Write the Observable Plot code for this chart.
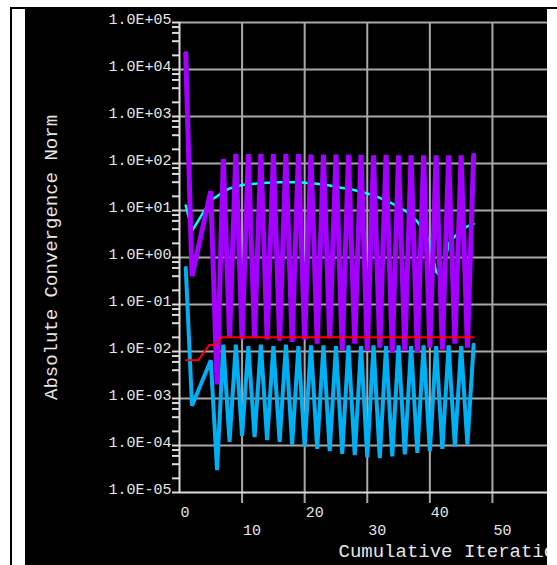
<!DOCTYPE html>
<html>
<head>
<meta charset="utf-8">
<script src="https://cdn.jsdelivr.net/npm/d3@7"></script>
<script src="https://cdn.jsdelivr.net/npm/@observablehq/plot@0.6"></script>
<style>
  html, body { margin: 0; padding: 0; background: #ffffff; width: 557px; height: 565px; overflow: hidden; }
  #frame { position: absolute; left: 10px; top: 7px; width: 547px; height: 560px;
           border-top: 2px solid #000; border-left: 2px solid #000; box-sizing: border-box; }
  #panel { position: absolute; left: 25px; top: 9px; width: 522px; height: 556px;
           background: #000; overflow: hidden; }
  #panel svg { display: block; }
</style>
</head>
<body>
<div id="frame"></div>
<div id="panel"></div>
<script>
// ---- tick values / labels ----
const yDecades = [1e-5, 1e-4, 1e-3, 1e-2, 1e-1, 1e0, 1e1, 1e2, 1e3, 1e4, 1e5];
const yTickLabels = ["1.0E-05", "1.0E-04", "1.0E-03", "1.0E-02", "1.0E-01", "1.0E+00",
                     "1.0E+01", "1.0E+02", "1.0E+03", "1.0E+04", "1.0E+05"];
const yMinorMultipliers = [2, 4, 6, 8];
const xTickMarks = [10, 20, 30, 40, 50];
const xLabelsUpper = [0, 20, 40];
const xLabelsLower = [10, 30, 50];
const xTitle = "Cumulative Iteration";
const yTitle = "Absolute Convergence Norm";

// ---- series (iteration, value) ----
const iterPB = [1, 2, 5, 6, 7, 8, 9, 10, 11, 12, 13, 14, 15, 16, 17, 18, 19, 20, 21, 22, 23, 24,
                25, 26, 27, 28, 29, 30, 31, 32, 33, 34, 35, 36, 37, 38, 39, 40, 41, 42, 43, 44, 45, 46, 47];
const purpleVal = [2.2e4, 0.4, 26, 0.002, 125, 0.02, 160, 0.018, 158, 0.02, 160, 0.018, 158, 0.017,
                   160, 0.016, 158, 0.018, 155, 0.0147, 155, 0.019, 155, 0.0105, 155, 0.0147, 152,
                   0.0103, 150, 0.012, 152, 0.0095, 150, 0.0103, 150, 0.0095, 150, 0.012, 150, 0.011,
                   150, 0.0147, 150, 0.012, 150];
const blueVal = [0.6, 0.0007, 0.0065, 3e-5, 0.014, 1.2e-4, 0.014, 1.6e-4, 0.013, 1.5e-4, 0.014, 1.3e-4,
                 0.013, 1.2e-4, 0.014, 1.05e-4, 0.013, 9.5e-5, 0.0135, 8.5e-5, 0.0135, 7.6e-5, 0.013,
                 6.6e-5, 0.0135, 6.2e-5, 0.013, 5.6e-5, 0.0135, 5.4e-5, 0.013, 5.9e-5, 0.0135, 6.5e-5,
                 0.013, 7e-5, 0.0135, 7.6e-5, 0.013, 8.5e-5, 0.0135, 9.5e-5, 0.013, 1.05e-4, 0.014];
const cyanVal = [12.8, 3.7, 16.6, 20, 25, 29.5, 32, 35, 36, 37, 38, 39, 39.4, 40, 40, 40, 40, 39, 38,
                 37, 35.5, 34, 32, 30, 29, 27, 25, 23, 21, 18.6, 16.2, 14, 12, 10, 8, 5.8, 3.7, 2.1,
                 0.5, 0.35, 2.0, 2.8, 3.7, 4.6, 5.2];
const redIter = [1, 3, 4.75, 5.75, 6.8, 47];
const redVal = [0.0065, 0.0065, 0.0138, 0.0138, 0.02, 0.02];

const yMinor = yDecades.slice(0, -1).flatMap(d => yMinorMultipliers.map(m => d * m));
const yAllTicks = yDecades.concat(yMinor);

const gridColor = "#a8a8a8";
const axisColor = "#dcdcdc";
const textColor = "#e6e6e6";

const W = 522, H = 556, ML = 154, MR = 0, MT = 13, MB = 73;
const xDomain = [0, 58.8], yDomain = [1e-5, 1e5];
const frameW = W - ML - MR, frameH = H - MT - MB;
// tick lengths (pixels) expressed in data units through the scale geometry
const yTickLen = 7 * (xDomain[1] - xDomain[0]) / frameW;
const xTickBottom = yDomain[0] * Math.pow(10, -11 * 10 / frameH);

const chart = Plot.plot({
  width: W,
  height: H,
  marginLeft: ML,
  marginRight: MR,
  marginTop: MT,
  marginBottom: MB,
  style: { background: "transparent", color: axisColor, fontFamily: "Liberation Mono, monospace", fontSize: "15px" },
  x: { domain: xDomain, axis: null },
  y: { type: "log", domain: yDomain, axis: null },
  marks: [
    Plot.ruleY(yDecades.slice(1), { stroke: gridColor, strokeWidth: 2 }),
    Plot.ruleX(xTickMarks, { stroke: gridColor, strokeWidth: 2 }),
    // tick marks outside the frame
    Plot.ruleY(yAllTicks, { y: d => d, x1: -yTickLen, x2: 0, stroke: axisColor, strokeWidth: 2 }),
    Plot.ruleX(xTickMarks, { x: d => d, y1: yDomain[0], y2: xTickBottom, stroke: gridColor, strokeWidth: 2 }),
    Plot.line(cyanVal, { x: iterPB, y: cyanVal, stroke: "#00ffff", strokeWidth: 2.5 }),
    Plot.line(purpleVal, { x: iterPB, y: purpleVal, stroke: "#a400ff", strokeWidth: 5, strokeLinejoin: "miter", strokeMiterlimit: 1.5 }),
    Plot.line(blueVal, { x: iterPB, y: blueVal, stroke: "#00b0f4", strokeWidth: 4, strokeLinejoin: "miter", strokeMiterlimit: 1.5 }),
    Plot.line(redVal, { x: redIter, y: redVal, stroke: "#ff0000", strokeWidth: 2 }),
    Plot.ruleX([0], { stroke: axisColor, strokeWidth: 2 }),
    Plot.ruleY([1e-5], { stroke: axisColor, strokeWidth: 2 }),
    Plot.text(yDecades, { x: 0, y: d => d, text: (d, i) => yTickLabels[i], textAnchor: "end",
      dx: -8, dy: -3, fill: textColor, fontSize: 15 }),
    Plot.text(xLabelsUpper, { x: d => d, y: 1e-5, text: d => String(d), textAnchor: "start",
      dx: 1, dy: 20, fill: textColor, fontSize: 15 }),
    Plot.text(xLabelsLower, { x: d => d, y: 1e-5, text: d => String(d), textAnchor: "start",
      dx: 1, dy: 38, fill: textColor, fontSize: 15 }),
    Plot.text([xTitle], { frameAnchor: "bottom-left", text: d => d, textAnchor: "start",
      dx: 159, dy: 64, fill: textColor, fontSize: 19 }),
    Plot.text([yTitle], { frameAnchor: "left", text: d => d, rotate: -90, textAnchor: "middle",
      dx: -129, fill: textColor, fontSize: 19 })
  ]
});
document.getElementById("panel").appendChild(chart);
</script>
</body>
</html>
